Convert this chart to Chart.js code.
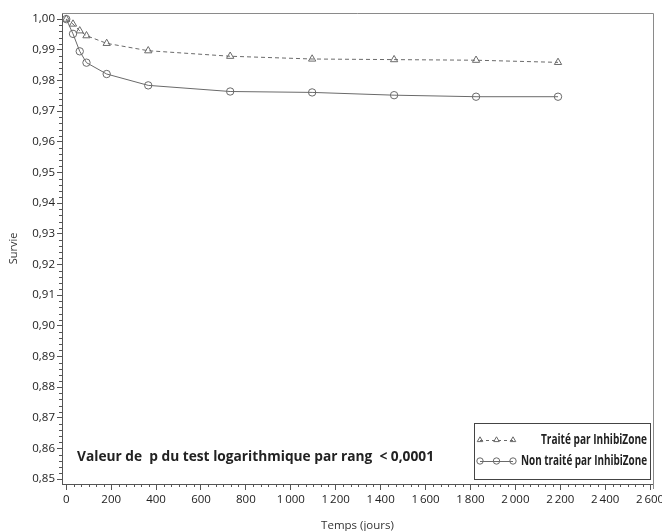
<!DOCTYPE html>
<html>
<head>
<meta charset="utf-8">
<script src="https://cdn.jsdelivr.net/npm/chart.js@4/dist/chart.umd.min.js"></script>
<style>
  html, body { margin: 0; padding: 0; background: #fff; }
  #wrap { width: 662px; height: 531px; }
</style>
</head>
<body>
<div id="wrap"><canvas id="chart" width="662" height="531"></canvas></div>
<script>
// survival curves
const DAYS = [0, 30, 60, 90, 180, 365, 730, 1095, 1460, 1825, 2190];
const TRAITE = [1.0, 0.9984, 0.9962, 0.9946, 0.9921, 0.9897, 0.9879, 0.9870, 0.9868, 0.9866, 0.9859];
const NON_TRAITE = [1.0, 0.9952, 0.9895, 0.9858, 0.9821, 0.9784, 0.9764, 0.9761, 0.9752, 0.9747, 0.9747];

const X_TICKS = [0, 200, 400, 600, 800, 1000, 1200, 1400, 1600, 1800, 2000, 2200, 2400, 2600];
const Y_TICKS = [0.85, 0.86, 0.87, 0.88, 0.89, 0.90, 0.91, 0.92, 0.93, 0.94, 0.95, 0.96, 0.97, 0.98, 0.99, 1.00];

const LABELS = ['Traité par InhibiZone', 'Non traité par InhibiZone'];
const P_TEXT = 'Valeur de  p du test logarithmique par rang  < 0,0001';

const FONT = 'Open Sans';
const LINE = '#6a6a6a';
const AXIS = '#555';

const fmtX = v => v >= 1000 ? Math.floor(v / 1000) + '\u2009' + String(v % 1000).padStart(3, '0') : String(v);
const fmtY = v => v.toFixed(2).replace('.', ',');

// little triangle/circle used in the legend
function marker(ctx, kind, x, y, r) {
  ctx.beginPath();
  if (kind === 'triangle') {
    ctx.moveTo(x, y - r);
    ctx.lineTo(x + 0.866 * r, y + 0.5 * r);
    ctx.lineTo(x - 0.866 * r, y + 0.5 * r);
    ctx.closePath();
  } else {
    ctx.arc(x, y, r, 0, Math.PI * 2);
  }
  ctx.stroke();
}

const extras = {
  id: 'extras',
  afterDraw(chart) {
    const { ctx, chartArea: a, scales: { x, y } } = chart;
    ctx.save();

    // top and right frame
    ctx.strokeStyle = '#8a8a8a';
    ctx.lineWidth = 1;
    ctx.beginPath();
    ctx.moveTo(a.left, a.top + 0.5);
    ctx.lineTo(a.right + 0.5, a.top + 0.5);
    ctx.lineTo(a.right + 0.5, a.bottom + 5);
    ctx.stroke();

    // minor ticks
    ctx.strokeStyle = AXIS;
    ctx.beginPath();
    for (let i = 0; i < X_TICKS.length - 1; i++) {
      const step = (X_TICKS[i + 1] - X_TICKS[i]) / 6;
      for (let k = 1; k < 6; k++) {
        const px = Math.round(x.getPixelForValue(X_TICKS[i] + k * step)) + 0.5;
        ctx.moveTo(px, a.bottom);
        ctx.lineTo(px, a.bottom + 3);
      }
    }
    for (let i = 0; i < Y_TICKS.length - 1; i++) {
      const step = (Y_TICKS[i + 1] - Y_TICKS[i]) / 5;
      for (let k = 1; k < 5; k++) {
        const py = Math.round(y.getPixelForValue(Y_TICKS[i] + k * step)) + 0.5;
        ctx.moveTo(a.left, py);
        ctx.lineTo(a.left - 3, py);
      }
    }
    ctx.stroke();

    // p-value note
    ctx.fillStyle = '#222';
    ctx.font = 'bold 14px "' + FONT + '"';
    ctx.textAlign = 'left';
    ctx.textBaseline = 'middle';
    ctx.fillText(P_TEXT, 77, 457, 357);

    // legend box
    const bx = 474.5, by = 423.5, bw = 176, bh = 56;
    ctx.fillStyle = '#fff';
    ctx.fillRect(bx, by, bw, bh);
    ctx.strokeStyle = '#444';
    ctx.strokeRect(bx, by, bw, bh);

    const rows = [
      { label: LABELS[0], kind: 'triangle', dash: [3, 3], yy: 440 },
      { label: LABELS[1], kind: 'circle', dash: [], yy: 461 }
    ];
    rows.forEach(r => {
      ctx.strokeStyle = LINE;
      ctx.setLineDash(r.dash);
      ctx.beginPath();
      ctx.moveTo(480, r.yy + 0.5);
      ctx.lineTo(513, r.yy + 0.5);
      ctx.stroke();
      ctx.setLineDash([]);
      [480, 496.5, 513].forEach(mx => marker(ctx, r.kind, mx, r.yy, 3.2));
      ctx.fillStyle = '#222';
      ctx.font = 'bold 14px "' + FONT + '"';
      ctx.textAlign = 'right';
      ctx.textBaseline = 'middle';
      const w = r.kind === 'circle' ? 126 : 106;
      ctx.fillText(r.label, 647, r.yy, w);
    });

    ctx.restore();
  }
};

new Chart(document.getElementById('chart'), {
  type: 'line',
  data: {
    datasets: [
      {
        label: LABELS[0],
        data: DAYS.map((d, i) => ({ x: d, y: TRAITE[i] })),
        borderColor: LINE,
        borderWidth: 1,
        borderDash: [4, 3],
        pointStyle: 'triangle',
        pointRadius: 4.2,
        pointBorderWidth: 1,
        pointBorderColor: LINE,
        pointBackgroundColor: 'rgba(255,255,255,0)',
        tension: 0,
        fill: false
      },
      {
        label: LABELS[1],
        data: DAYS.map((d, i) => ({ x: d, y: NON_TRAITE[i] })),
        borderColor: LINE,
        borderWidth: 1,
        pointStyle: 'circle',
        pointRadius: 3.7,
        pointBorderWidth: 1,
        pointBorderColor: LINE,
        pointBackgroundColor: 'rgba(255,255,255,0)',
        tension: 0,
        fill: false
      }
    ]
  },
  options: {
    responsive: false,
    animation: false,
    devicePixelRatio: 1,
    layout: { padding: { left: 0, top: 13, right: 9, bottom: 0 } },
    plugins: {
      legend: { display: false },
      tooltip: { enabled: false }
    },
    scales: {
      x: {
        type: 'linear',
        min: -19,
        max: 2613,
        afterBuildTicks: s => { s.ticks = X_TICKS.map(v => ({ value: v })); },
        afterFit: s => { s.height = 47; s.paddingLeft = 0; s.paddingRight = 0; },
        border: { display: true, color: AXIS, width: 1 },
        grid: { drawOnChartArea: false, drawTicks: true, tickLength: 6, color: AXIS },
        ticks: {
          font: { family: FONT, size: 11.5 },
          color: '#222',
          padding: 3,
          maxRotation: 0,
          autoSkip: false,
          callback: v => fmtX(v)
        },
        title: {
          display: true,
          text: 'Temps (jours)',
          color: '#333',
          font: { family: FONT, size: 11.5, lineHeight: 1 },
          padding: { top: 0, bottom: 0 }
        }
      },
      y: {
        type: 'linear',
        min: 0.8484,
        max: 1.002,
        afterBuildTicks: s => { s.ticks = Y_TICKS.map(v => ({ value: v })); },
        afterFit: s => { s.width = 62; s.paddingTop = 0; s.paddingBottom = 0; },
        border: { display: true, color: AXIS, width: 1 },
        grid: { drawOnChartArea: false, drawTicks: true, tickLength: 5, color: AXIS },
        ticks: {
          font: { family: FONT, size: 11.5 },
          color: '#222',
          padding: 2,
          autoSkip: false,
          callback: v => fmtY(v)
        },
        title: {
          display: true,
          text: 'Survie',
          color: '#333',
          font: { family: FONT, size: 11, lineHeight: 1 },
          padding: { top: 8.5, bottom: 0 }
        }
      }
    }
  },
  plugins: [extras]
});
</script>
</body>
</html>
